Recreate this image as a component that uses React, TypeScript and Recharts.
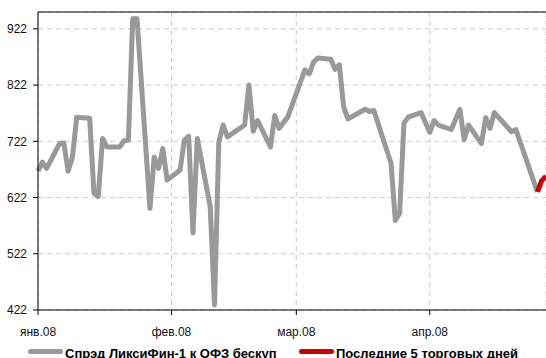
import React from 'react';
import {
  LineChart,
  Line,
  XAxis,
  YAxis,
  CartesianGrid,
  Legend,
  ReferenceLine,
} from 'recharts';

// day offsets from 1 Jan 2008
const spreadDays = [
  0, 1, 2, 5, 6, 7, 8, 9, 12, 13, 14, 15, 16, 19, 20, 21, 22, 23, 26, 27, 28, 29, 30,
  33, 34, 35, 36, 37, 40, 41, 42, 43, 44, 48, 49, 50, 51, 54, 55, 56, 58, 62, 63, 64,
  65, 68, 69, 70, 71, 72, 76, 77, 78, 82, 83, 84, 85, 86, 89, 91, 92, 93, 96, 98, 99,
  100, 103, 104, 105, 106, 110, 111, 116,
];
const spreadValues = [
  669, 685, 674, 718, 719, 669, 694, 765, 763, 630, 624, 727, 712, 712, 723, 724, 940, 940,
  603, 694, 674, 709, 653, 671, 724, 731, 559, 727, 606, 431, 721, 751, 730, 751, 822, 740,
  759, 712, 768, 745, 765, 849, 842, 863, 870, 868, 850, 858, 783, 762, 779, 775, 777, 683,
  581, 594, 754, 765, 773, 738, 759, 751, 743, 779, 725, 751, 718, 764, 745, 773, 739, 743,
  632,
];
const lastDays = [116, 117, 118];
const lastValues = [632, 652, 660];

const monthTicks = [0, 31, 60, 91];
const monthLabels = ['янв.08', 'фев.08', 'мар.08', 'апр.08'];
const valueTicks = [422, 522, 622, 722, 822, 922];

const seriesNames = ['Спрэд ЛиксиФин-1 к ОФЗ бескуп', 'Последние 5 торговых дней'];

const GRAY = '#999999';
const RED = '#cc0000';

const rows: Record<number, { day: number; spread?: number; last?: number }> = {};
spreadDays.forEach((d, i) => {
  rows[d] = { ...(rows[d] || { day: d }), spread: spreadValues[i] };
});
lastDays.forEach((d, i) => {
  rows[d] = { ...(rows[d] || { day: d }), last: lastValues[i] };
});
const chartData = Object.values(rows).sort((a, b) => a.day - b.day);

const tickFont = {
  fill: '#111',
  fontSize: 12,
  fontFamily: '"Liberation Sans Narrow", "Liberation Sans", Arial, sans-serif',
};

function LegendBox() {
  const item = (left: number, color: string, text: string) => (
    <div style={{ position: 'absolute', left, top: 0, height: 16 }}>
      <div
        style={{
          position: 'absolute',
          left: 0,
          top: 9,
          width: 35,
          height: 5,
          borderRadius: 3,
          background: color,
        }}
      />
      <span
        style={{
          position: 'absolute',
          left: 37,
          top: 6,
          whiteSpace: 'nowrap',
          fontSize: 13,
          lineHeight: '16px',
          fontWeight: 'bold',
          color: '#000',
          fontFamily: '"Liberation Sans", Arial, sans-serif',
        }}
      >
        {text}
      </span>
    </div>
  );
  return (
    <div style={{ position: 'relative', width: 546, height: 16 }}>
      {item(28, GRAY, seriesNames[0])}
      {item(299, RED, seriesNames[1])}
    </div>
  );
}

export default function App() {
  return (
    <div style={{ position: 'absolute', left: 0, top: 0, width: 546, height: 358, background: '#fff', overflow: 'hidden' }}>
      <LineChart
        width={546}
        height={358}
        data={chartData}
        margin={{ top: 12, right: 0, bottom: 2, left: 0 }}
      >
        <CartesianGrid stroke="#cccccc" strokeDasharray="5 4" ticks={monthTicks} />
        <XAxis
          dataKey="day"
          type="number"
          domain={[0, 118]}
          ticks={monthTicks}
          tickFormatter={(v) => monthLabels[monthTicks.indexOf(v)] ?? ''}
          height={30}
          stroke="#000"
          tickSize={5}
          tickMargin={12}
          tick={tickFont}
        />
        <YAxis
          type="number"
          domain={[422, 952]}
          ticks={valueTicks}
          width={38}
          stroke="#000"
          tickSize={5}
          tickMargin={6}
          tick={tickFont}
          allowDataOverflow
        />
        <ReferenceLine y={952} stroke="#000" strokeWidth={1} />
        <Legend verticalAlign="bottom" content={() => <LegendBox />} wrapperStyle={{ left: 0, width: 546 }} />
        <Line
          type="linear"
          dataKey="spread"
          stroke={GRAY}
          strokeWidth={5}
          strokeLinejoin="round"
          dot={false}
          activeDot={false}
          isAnimationActive={false}
          name={seriesNames[0]}
        />
        <Line
          type="linear"
          dataKey="last"
          stroke={RED}
          strokeWidth={5}
          strokeLinejoin="round"
          dot={false}
          activeDot={false}
          isAnimationActive={false}
          name={seriesNames[1]}
        />
      </LineChart>
    </div>
  );
}
